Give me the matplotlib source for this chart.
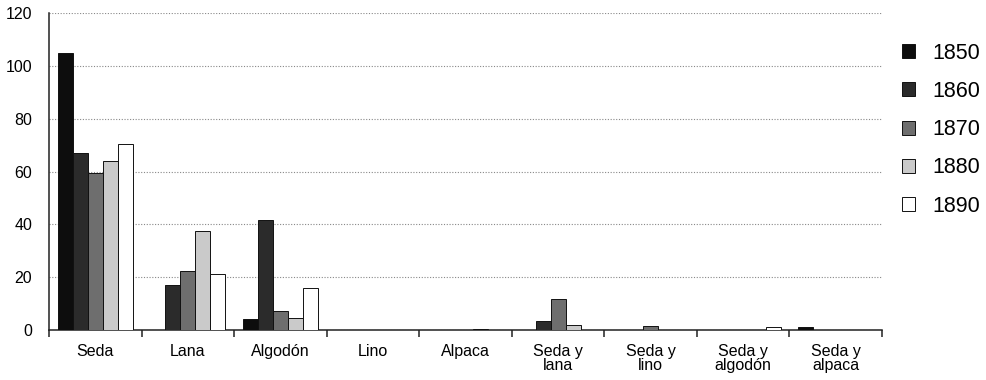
"""Bar chart: textile types by decade (1850-1890), grayscale style."""
import numpy as np
import matplotlib
matplotlib.use("Agg")
import matplotlib.pyplot as plt

plt.rcParams["font.family"] = ["Liberation Sans", "DejaVu Sans"]

categories = ["Seda", "Lana", "Algodón", "Lino", "Alpaca",
              "Seda y\nlana", "Seda y\nlino", "Seda y\nalgodón", "Seda y\nalpaca"]
years = ["1850", "1860", "1870", "1880", "1890"]

v1850 = [105, 0, 4.2, 0, 0, 0, 0, 0, 1.0]
v1860 = [67, 17, 41.5, 0, 0, 3.4, 0, 0, 0]
v1870 = [59.5, 22.4, 7.2, 0, 0, 11.6, 1.6, 0, 0]
v1880 = [64, 37.5, 4.4, 0, 0.5, 1.8, 0, 0, 0]
v1890 = [70.5, 21.2, 15.9, 0, 0, 0, 0, 1.0, 0]
series = [v1850, v1860, v1870, v1880, v1890]

colors = ["#0d0d0d", "#2b2b2b", "#6e6e6e", "#cacaca", "#ffffff"]

fig = plt.figure(figsize=(9.87, 3.80), dpi=100)
ax = fig.add_axes([0.0496, 0.1316, 0.8440, 0.8334])

x = np.arange(len(categories))
w = 0.162
for i, (vals, col, yr) in enumerate(zip(series, colors, years)):
    ax.bar(x + (i - 2) * w, vals, width=w, color=col, edgecolor="#111111",
           linewidth=0.7, label=yr, zorder=3)

ax.set_xlim(-0.5, len(categories) - 0.5)
ax.set_ylim(0, 120)
ax.set_yticks(np.arange(0, 121, 20))
ax.yaxis.grid(True, ls=(0, (1, 1.5)), color="#888888", lw=0.8, zorder=0)
ax.tick_params(axis="y", length=0, pad=12, labelsize=11.5)

ax.set_xticks(np.arange(-0.5, len(categories)), labels=[])
ax.set_xticks(x, labels=categories, minor=True)
ax.tick_params(axis="x", which="major", length=5, width=1.1, direction="out", color="#222222")
ax.tick_params(axis="x", which="minor", length=0, pad=10, labelsize=11.5)
for lab in ax.get_xticklabels(minor=True):
    lab.set_linespacing(0.95)

for s in ["top", "right"]:
    ax.spines[s].set_visible(False)
for s in ["left", "bottom"]:
    ax.spines[s].set_linewidth(1.1)
    ax.spines[s].set_color("#222222")

fig.legend(loc="upper left", bbox_to_anchor=(0.905, 0.91), frameon=False,
           fontsize=15.5, handlelength=0.62, handleheight=0.62, handletextpad=0.8,
           labelspacing=0.8, borderaxespad=0)

fig.savefig("out.png", dpi=100, facecolor="white")
